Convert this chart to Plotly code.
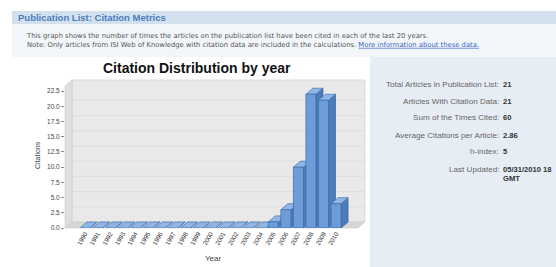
import plotly.graph_objects as go

# ---------------- data ----------------
years = ["1990", "1991", "1992", "1993", "1994", "1995", "1996", "1997", "1998", "1999",
         "2000", "2001", "2002", "2003", "2004", "2005", "2006", "2007", "2008", "2009", "2010"]
citations = [0, 0, 0, 0, 0, 0, 0, 0, 0, 0, 0, 0, 0, 0, 0, 1, 3, 10, 22, 21, 4]
y_ticks = [0.0, 2.5, 5.0, 7.5, 10.0, 12.5, 15.0, 17.5, 20.0, 22.5]

stat_labels = ["Total Articles in Publication List:", "Articles With Citation Data:",
               "Sum of the Times Cited:", "Average Citations per Article:", "h-index:",
               "Last Updated:"]
stat_values = ["21", "21", "60", "2.86", "5", "05/31/2010 18"]

# ---------------- geometry (pixels) ----------------
W, H = 556, 267
L, R, T, B = 65, 358, 86, 228          # front plot rectangle
DXP, DYP = 7, 6                        # 3D depth offset in pixels
XR = [-1.6, 21.75]
YR = [0, 23.35]
px_x = (R - L) / (XR[1] - XR[0])
px_y = (B - T) / (YR[1] - YR[0])
dx = DXP / px_x
dy = DYP / px_y
bw = 0.40  # half bar width in category units


def pxx(px):
    return (px - L) / (R - L)


def pxy(py):
    return (B - py) / (B - T)


# ---------------- bars (pseudo 3D faces) ----------------
fx, fy, sx, sy, tx, ty = [], [], [], [], [], []
for i, v in enumerate(citations):
    x0, x1 = i - bw, i + bw
    if v > 0:
        fx += [x0, x1, x1, x0, x0, None]
        fy += [0, 0, v, v, 0, None]
    sx += [x1, x1 + dx, x1 + dx, x1, x1, None]
    sy += [0, dy, v + dy, v, 0, None]
    tx += [x0, x1, x1 + dx, x0 + dx, x0, None]
    ty += [v, v, v + dy, v + dy, v, None]

fig = go.Figure()
fig.add_trace(go.Scatter(x=sx, y=sy, mode="lines", fill="toself", fillcolor="#4d7cba",
                         line=dict(color="#36639e", width=0.7), hoverinfo="skip", showlegend=False))
fig.add_trace(go.Scatter(x=tx, y=ty, mode="lines", fill="toself", fillcolor="#8fb6e6",
                         line=dict(color="#4370ad", width=0.7), hoverinfo="skip", showlegend=False))
fig.add_trace(go.Scatter(x=fx, y=fy, mode="lines", fill="toself", fillcolor="#6d9dd8",
                         line=dict(color="#3d69a6", width=0.7), hoverinfo="skip", showlegend=False))

# ---------------- background shapes ----------------
shapes = []


def rect(x0, y0, x1, y1, color, line=None):
    shapes.append(dict(type="rect", xref="paper", yref="paper", layer="below",
                       x0=pxx(x0), x1=pxx(x1), y0=pxy(y1), y1=pxy(y0),
                       fillcolor=color, line=dict(width=0) if line is None else line))


def poly(pts, color, line=None):
    d = "M " + " L ".join(f"{pxx(a):.5f},{pxy(b):.5f}" for a, b in pts) + " Z"
    shapes.append(dict(type="path", xref="paper", yref="paper", layer="below", path=d,
                       fillcolor=color, line=dict(width=0) if line is None else line))


rect(12, 24, W + 5, H + 5, "#f2f6fa")
rect(12, 11, W + 5, 24, "#d3e1ee")
rect(370, 57, W + 5, H + 5, "#e6edf5")
rect(12, 57, 370, H + 5, "#ffffff")
rect(L + DXP, T - DYP, R + DXP, B - DYP, "#e9e9e9", line=dict(color="#d4d4d4", width=0.8))
poly([(L, B), (L, T), (L + DXP, T - DYP), (L + DXP, B - DYP)], "#dedede",
     line=dict(color="#cfcfcf", width=0.6))
poly([(L, B), (R, B), (R + DXP, B - DYP), (L + DXP, B - DYP)], "#d6d6d6",
     line=dict(color="#cdcdcd", width=0.6))
for t in y_ticks[1:]:
    shapes.append(dict(type="line", xref="paper", yref="y", layer="below",
                       x0=pxx(L + DXP), x1=pxx(R + DXP), y0=t + dy, y1=t + dy,
                       line=dict(color="#d9d9d9", width=0.6)))

# ---------------- annotations ----------------
ann = []


def text(px, py, s, size, color, xanchor="left", bold=False, family="Liberation Sans", angle=0):
    ann.append(dict(xref="paper", yref="paper", x=pxx(px), y=pxy(py), text=(f"<b>{s}</b>" if bold else s),
                    showarrow=False, xanchor=xanchor, yanchor="middle", textangle=angle, align="left",
                    borderpad=0, font=dict(size=size, color=color, family=family)))


text(17, 17.5, "Publication List: Citation Metrics", 9.5, "#4a7dbd", bold=True)
text(25, 40,
     "This graph shows the number of times the articles on the publication list have been cited in each of the last 20 years.<br>"
     "Note: Only articles from ISI Web of Knowledge with citation data are included in the calculations. "
     "<span style='color:#3a66c4;text-decoration:underline'>More information about these data.</span>",
     6.8, "#555555", family="DejaVu Sans")
text(197, 68, "Citation Distribution by year", 14, "#111111", xanchor="center", bold=True)
text(37, 155, "Citations", 7, "#444444", xanchor="center", angle=-90)
text(213, 258, "Year", 8, "#444444", xanchor="center")

stat_y = [84.3, 101, 117.7, 135, 151.7, 169.3]
for lab, val, yy in zip(stat_labels, stat_values, stat_y):
    text(500, yy, lab, 8.1, "#666666", xanchor="right")
    text(502, yy, val, 7.6, "#333333", bold=True)
text(502, 178.5, "GMT", 7.6, "#333333", bold=True)

fig.update_layout(
    width=W, height=H,
    margin=dict(l=L, r=W - R, t=T, b=H - B, pad=0),
    paper_bgcolor="#ffffff", plot_bgcolor="rgba(0,0,0,0)",
    shapes=shapes, annotations=ann, showlegend=False,
    font=dict(family="Liberation Sans"),
    xaxis=dict(range=XR, tickmode="array", tickvals=list(range(len(years))), ticktext=years,
               tickangle=-60, tickfont=dict(size=6.3, color="#333333"), showgrid=False,
               zeroline=False, showline=False, ticks="", fixedrange=True, automargin=False),
    yaxis=dict(range=YR, tickmode="array", tickvals=y_ticks, ticktext=[f"{t:.1f}" for t in y_ticks],
               tickfont=dict(size=6.5, color="#444444"), showgrid=False, zeroline=False,
               showline=False, ticks="outside", ticklen=3, tickcolor="#888888", fixedrange=True,
               automargin=False),
)

fig.write_html("out.html", config={"displayModeBar": False},
               post_script="document.body.style.margin='0';document.body.style.overflow='hidden';")
